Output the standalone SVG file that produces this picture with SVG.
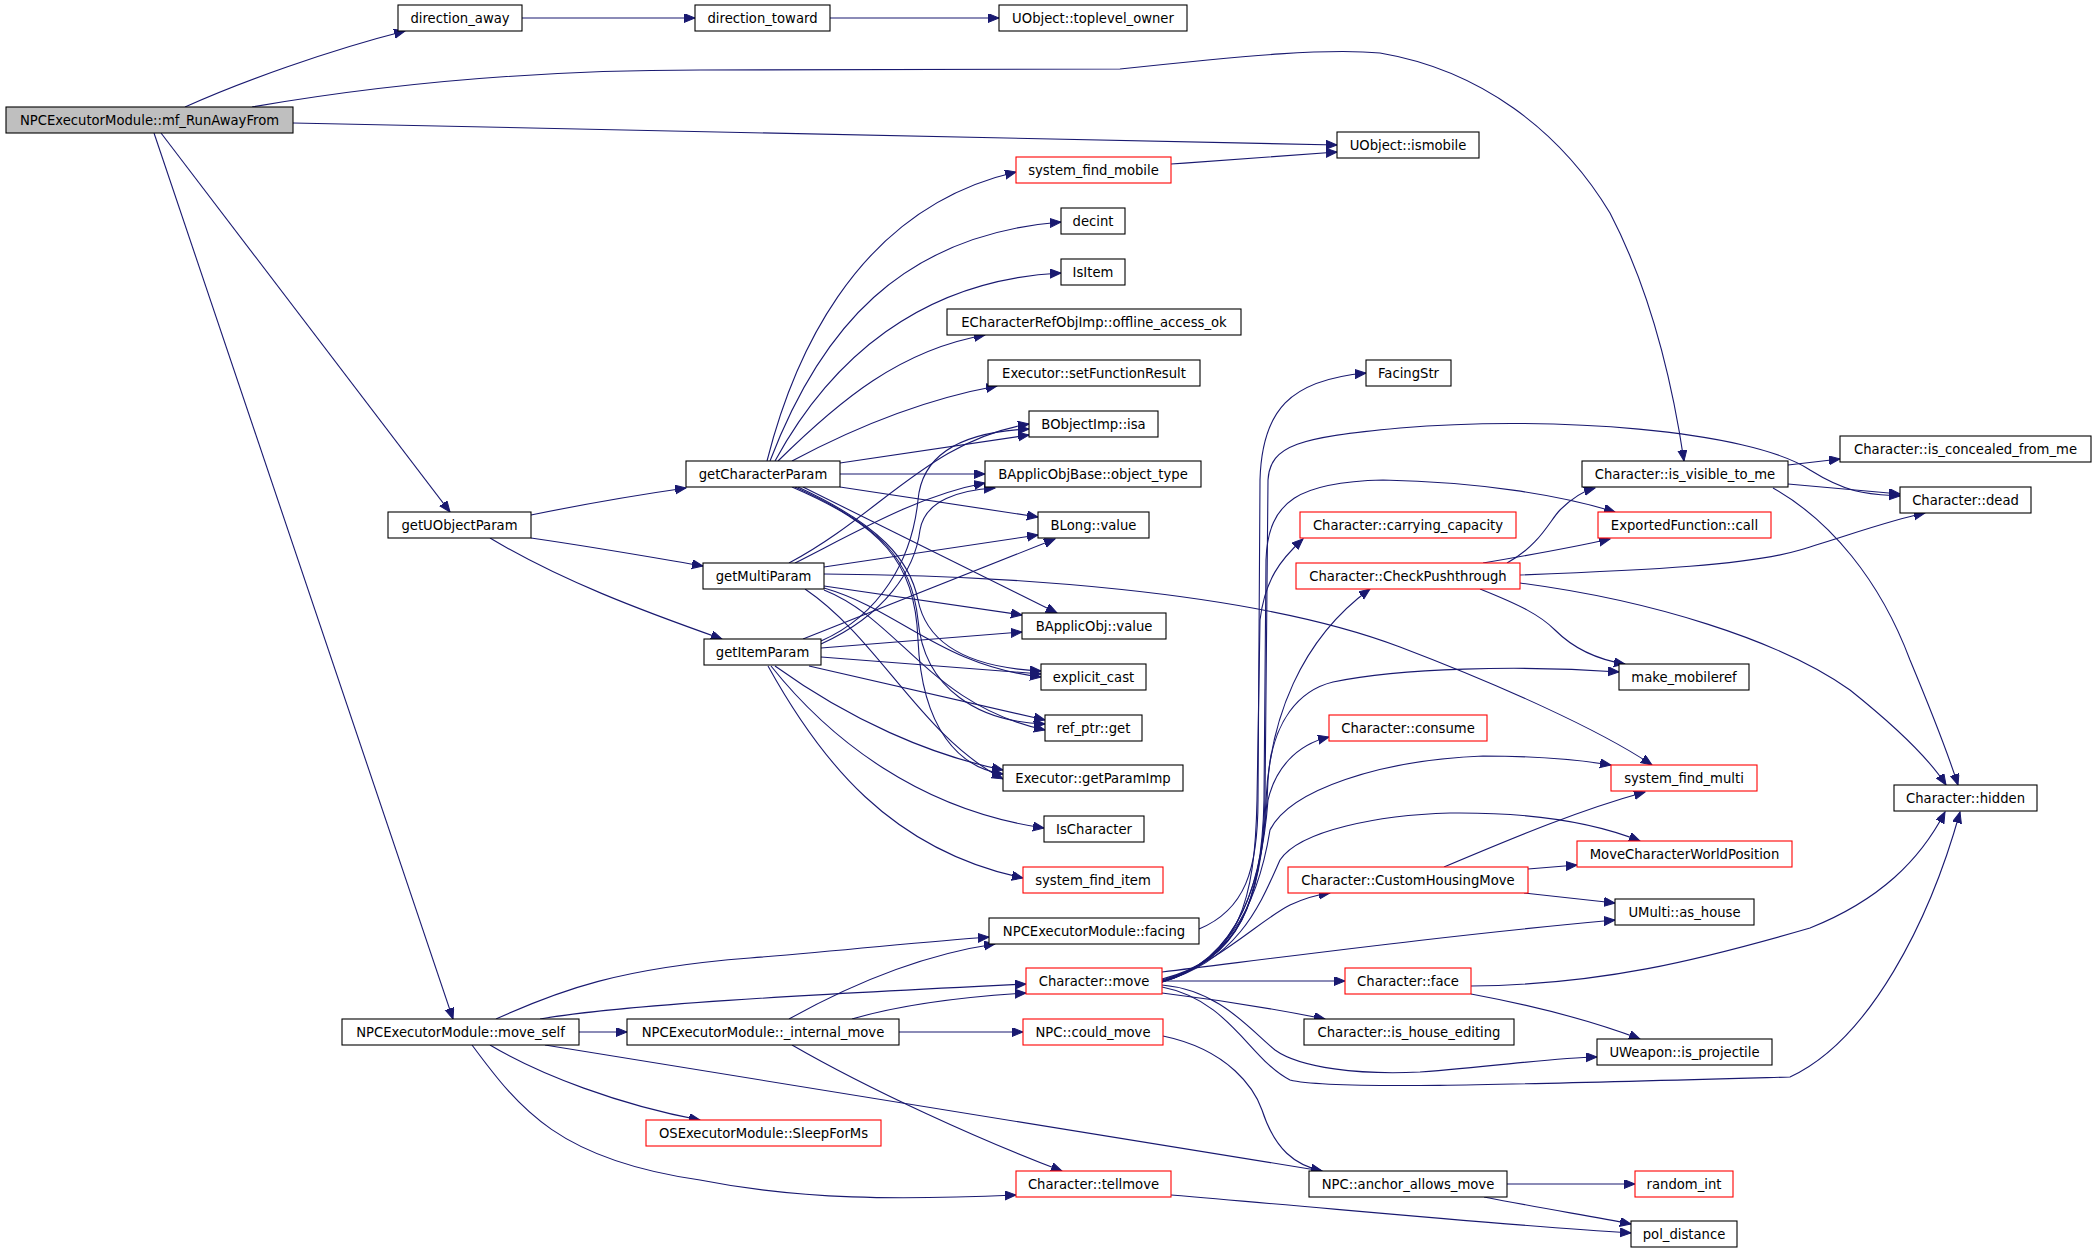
<svg xmlns="http://www.w3.org/2000/svg" width="2096" height="1253" viewBox="0 0 2096 1253">
<style>
.node rect{fill:#ffffff;stroke:#000000;stroke-width:1.1}
.node.red rect{stroke:#ff0000}
.node.root rect{fill:#bfbfbf}
.node text{font-family:"DejaVu Sans",sans-serif;font-size:13.2px;fill:#000000;text-anchor:middle}
#edges path{fill:none;stroke:#191970;stroke-width:1.1;marker-end:url(#ah)}
</style>
<defs>
<marker id="ah" markerWidth="13" markerHeight="10" refX="11" refY="4.5" orient="auto" markerUnits="userSpaceOnUse">
<path d="M0,0 L11,4.5 L0,9 z" fill="#191970" stroke="#191970" stroke-width="1"/>
</marker>
</defs>
<rect width="2096" height="1253" fill="#ffffff"/>
<g id="edges">
<path d="M185,107 C240,82 330,50 405,31"/>
<path d="M522,18 L695,18"/>
<path d="M830,18 L999,18"/>
<path d="M252,107 C350,90 500,70 700,70 L1120,69 C1250,55 1330,48 1380,53 C1480,70 1560,130 1610,213 C1650,290 1672,380 1684,461"/>
<path d="M293,123 C500,128 900,137 1337,145"/>
<path d="M161,133 L450,512"/>
<path d="M154,133 L453,1019"/>
<path d="M531,515 C580,505 630,496 686,488"/>
<path d="M531,538 C600,548 650,557 703,566"/>
<path d="M490,538 C560,580 640,610 722,639"/>
<path d="M1171,164 C1230,160 1290,155 1337,152"/>
<path d="M767,461 C790,370 850,210 1016,172"/>
<path d="M770,461 C820,330 900,235 1061,222"/>
<path d="M775,461 C830,360 920,280 1061,273"/>
<path d="M778,461 C840,400 900,350 985,335"/>
<path d="M792,461 C850,430 920,400 997,386"/>
<path d="M840,463 L1029,435"/>
<path d="M840,474 L985,474"/>
<path d="M840,487 L1038,517"/>
<path d="M803,487 L1057,613"/>
<path d="M798,487 C880,525 910,560 918,600 C928,650 980,668 1041,671"/>
<path d="M795,487 C880,525 912,560 918,620 C924,690 980,722 1045,724"/>
<path d="M792,487 C880,525 915,560 918,640 C922,730 960,768 1003,774"/>
<path d="M789,563 C880,515 930,440 1029,424"/>
<path d="M795,563 C860,530 920,495 985,483"/>
<path d="M824,567 L1038,535"/>
<path d="M824,586 L1022,615"/>
<path d="M824,588 C900,610 940,665 1041,677"/>
<path d="M824,590 C900,620 930,705 1045,730"/>
<path d="M805,589 C880,640 920,735 1003,779"/>
<path d="M824,574 C1000,575 1250,590 1400,647 C1500,685 1600,730 1652,765"/>
<path d="M821,641 C880,615 912,560 918,500 C922,455 960,432 1029,429"/>
<path d="M821,644 C885,615 915,570 920,530 C925,500 960,490 995,488"/>
<path d="M803,639 L1055,539"/>
<path d="M821,648 L1022,632"/>
<path d="M821,657 L1041,674"/>
<path d="M809,666 L1045,720"/>
<path d="M775,666 C850,720 930,755 1003,770"/>
<path d="M771,666 C830,740 920,810 1044,828"/>
<path d="M768,666 C820,760 890,850 1023,878"/>
<path d="M496,1019 C560,990 620,968 750,958 C850,950 920,942 989,937"/>
<path d="M540,1019 C620,1005 800,995 1026,984"/>
<path d="M579,1032 L627,1032"/>
<path d="M490,1045 C540,1075 620,1105 700,1120"/>
<path d="M472,1045 C520,1110 560,1160 700,1180 C800,1200 900,1200 1016,1195"/>
<path d="M545,1045 C700,1070 1000,1120 1322,1171"/>
<path d="M789,1019 C850,985 920,955 995,944"/>
<path d="M852,1019 C900,1005 960,997 1026,993"/>
<path d="M899,1032 L1023,1032"/>
<path d="M792,1045 C870,1090 980,1140 1062,1171"/>
<path d="M1163,1036 C1230,1050 1255,1090 1262,1110 C1275,1150 1295,1165 1322,1171"/>
<path d="M1507,1184 L1635,1184"/>
<path d="M1484,1197 C1540,1208 1590,1216 1631,1224"/>
<path d="M1171,1195 C1350,1210 1500,1225 1631,1233"/>
<path d="M1199,929 C1245,910 1258,870 1258,800 L1260,480 C1262,410 1290,380 1366,373"/>
<path d="M1162,979 C1240,960 1262,900 1265,800 L1268,480 C1270,445 1300,437 1400,428 C1550,415 1750,430 1810,470 C1850,495 1870,494 1900,496"/>
<path d="M1162,980 C1240,960 1262,900 1264,800 L1266,560 C1268,500 1300,482 1383,480 C1480,482 1560,495 1615,512"/>
<path d="M1162,981 C1240,960 1255,900 1257,800 L1260,620 C1265,580 1280,560 1303,539"/>
<path d="M1162,981 C1240,960 1262,900 1266,800 C1270,720 1300,640 1370,589"/>
<path d="M1162,982 C1240,960 1265,880 1268,780 C1272,720 1300,690 1333,682 C1400,668 1520,665 1619,672"/>
<path d="M1162,982 C1240,960 1262,880 1268,800 C1275,770 1295,745 1329,737"/>
<path d="M1162,982 C1240,960 1262,880 1270,830 C1290,790 1380,760 1483,756 C1540,756 1580,760 1611,765"/>
<path d="M1162,982 C1240,960 1262,900 1280,860 C1300,830 1380,815 1450,813 C1540,812 1600,825 1640,841"/>
<path d="M1162,982 C1220,962 1260,920 1290,905 C1305,898 1315,895 1330,893"/>
<path d="M1162,972 C1300,955 1450,935 1615,920"/>
<path d="M1162,981 L1345,981"/>
<path d="M1162,993 C1220,1000 1280,1010 1325,1019"/>
<path d="M1162,985 C1220,990 1250,1030 1275,1050 C1300,1068 1360,1075 1420,1072 C1500,1066 1550,1058 1597,1057"/>
<path d="M1162,987 C1230,1000 1250,1060 1290,1080 C1330,1090 1500,1085 1790,1077 C1870,1040 1930,920 1960,812"/>
<path d="M1471,986 C1600,985 1700,960 1810,928 C1880,900 1920,860 1945,812"/>
<path d="M1471,994 C1530,1005 1590,1020 1640,1039"/>
<path d="M1483,563 C1530,555 1570,548 1610,539"/>
<path d="M1507,563 C1540,545 1550,520 1560,510 C1570,500 1580,492 1595,488"/>
<path d="M1520,575 C1650,570 1750,565 1800,550 C1850,535 1890,520 1925,513"/>
<path d="M1520,583 C1650,600 1780,640 1850,690 C1900,730 1930,760 1946,785"/>
<path d="M1480,589 C1520,605 1540,615 1555,630 C1575,650 1600,660 1625,664"/>
<path d="M1788,465 L1840,459"/>
<path d="M1788,484 L1900,494"/>
<path d="M1773,488 C1830,520 1880,580 1910,660 C1935,720 1950,760 1958,785"/>
<path d="M1444,867 C1520,835 1580,810 1645,792"/>
<path d="M1528,869 L1577,865"/>
<path d="M1524,893 L1615,903"/>
</g>
<g id="n_root" class="node root"><rect x="6" y="107" width="287" height="26"/><text x="149.5" y="124.5">NPCExecutorModule::mf_RunAwayFrom</text></g>
<g id="n_da" class="node"><rect x="398" y="5" width="124" height="26"/><text x="460" y="22.5">direction_away</text></g>
<g id="n_dt" class="node"><rect x="695" y="5" width="135" height="26"/><text x="762.5" y="22.5">direction_toward</text></g>
<g id="n_tlo" class="node"><rect x="999" y="5" width="188" height="26"/><text x="1093" y="22.5">UObject::toplevel_owner</text></g>
<g id="n_ism" class="node"><rect x="1337" y="132" width="142" height="26"/><text x="1408" y="149.5">UObject::ismobile</text></g>
<g id="n_sfm" class="node red"><rect x="1016" y="157" width="155" height="26"/><text x="1093.5" y="174.5">system_find_mobile</text></g>
<g id="n_dec" class="node"><rect x="1061" y="208" width="64" height="26"/><text x="1093" y="225.5">decint</text></g>
<g id="n_isi" class="node"><rect x="1061" y="259" width="64" height="26"/><text x="1093" y="276.5">IsItem</text></g>
<g id="n_ecr" class="node"><rect x="947" y="309" width="294" height="26"/><text x="1094" y="326.5">ECharacterRefObjImp::offline_access_ok</text></g>
<g id="n_sfr" class="node"><rect x="988" y="360" width="212" height="26"/><text x="1094" y="377.5">Executor::setFunctionResult</text></g>
<g id="n_fstr" class="node"><rect x="1366" y="360" width="85" height="26"/><text x="1408.5" y="377.5">FacingStr</text></g>
<g id="n_isa" class="node"><rect x="1029" y="411" width="129" height="26"/><text x="1093.5" y="428.5">BObjectImp::isa</text></g>
<g id="n_conc" class="node"><rect x="1840" y="436" width="251" height="26"/><text x="1965.5" y="453.5">Character::is_concealed_from_me</text></g>
<g id="n_gcp" class="node"><rect x="686" y="461" width="154" height="26"/><text x="763" y="478.5">getCharacterParam</text></g>
<g id="n_obt" class="node"><rect x="985" y="461" width="216" height="26"/><text x="1093" y="478.5">BApplicObjBase::object_type</text></g>
<g id="n_vis" class="node"><rect x="1582" y="461" width="206" height="26"/><text x="1685" y="478.5">Character::is_visible_to_me</text></g>
<g id="n_dead" class="node"><rect x="1900" y="487" width="131" height="26"/><text x="1965.5" y="504.5">Character::dead</text></g>
<g id="n_guo" class="node"><rect x="388" y="512" width="143" height="26"/><text x="459.5" y="529.5">getUObjectParam</text></g>
<g id="n_blv" class="node"><rect x="1038" y="512" width="111" height="26"/><text x="1093.5" y="529.5">BLong::value</text></g>
<g id="n_cap" class="node red"><rect x="1300" y="512" width="216" height="26"/><text x="1408" y="529.5">Character::carrying_capacity</text></g>
<g id="n_efc" class="node red"><rect x="1598" y="512" width="173" height="26"/><text x="1684.5" y="529.5">ExportedFunction::call</text></g>
<g id="n_gmp" class="node"><rect x="703" y="563" width="121" height="26"/><text x="763.5" y="580.5">getMultiParam</text></g>
<g id="n_cpt" class="node red"><rect x="1296" y="563" width="224" height="26"/><text x="1408" y="580.5">Character::CheckPushthrough</text></g>
<g id="n_bav" class="node"><rect x="1022" y="613" width="144" height="26"/><text x="1094" y="630.5">BApplicObj::value</text></g>
<g id="n_gip" class="node"><rect x="704" y="639" width="117" height="26"/><text x="762.5" y="656.5">getItemParam</text></g>
<g id="n_ecast" class="node"><rect x="1041" y="664" width="105" height="26"/><text x="1093.5" y="681.5">explicit_cast</text></g>
<g id="n_mmr" class="node"><rect x="1619" y="664" width="130" height="26"/><text x="1684" y="681.5">make_mobileref</text></g>
<g id="n_rpg" class="node"><rect x="1045" y="715" width="97" height="26"/><text x="1093.5" y="732.5">ref_ptr::get</text></g>
<g id="n_cons" class="node red"><rect x="1329" y="715" width="158" height="26"/><text x="1408" y="732.5">Character::consume</text></g>
<g id="n_gpi" class="node"><rect x="1003" y="765" width="180" height="26"/><text x="1093" y="782.5">Executor::getParamImp</text></g>
<g id="n_sfmu" class="node red"><rect x="1611" y="765" width="146" height="26"/><text x="1684" y="782.5">system_find_multi</text></g>
<g id="n_hid" class="node"><rect x="1894" y="785" width="143" height="26"/><text x="1965.5" y="802.5">Character::hidden</text></g>
<g id="n_isc" class="node"><rect x="1044" y="816" width="100" height="26"/><text x="1094" y="833.5">IsCharacter</text></g>
<g id="n_mcwp" class="node red"><rect x="1577" y="841" width="215" height="26"/><text x="1684.5" y="858.5">MoveCharacterWorldPosition</text></g>
<g id="n_sfi" class="node red"><rect x="1023" y="867" width="140" height="26"/><text x="1093" y="884.5">system_find_item</text></g>
<g id="n_chm" class="node red"><rect x="1288" y="867" width="240" height="26"/><text x="1408" y="884.5">Character::CustomHousingMove</text></g>
<g id="n_ash" class="node"><rect x="1615" y="899" width="139" height="26"/><text x="1684.5" y="916.5">UMulti::as_house</text></g>
<g id="n_fac" class="node"><rect x="989" y="918" width="210" height="26"/><text x="1094" y="935.5">NPCExecutorModule::facing</text></g>
<g id="n_mov" class="node red"><rect x="1026" y="968" width="136" height="26"/><text x="1094" y="985.5">Character::move</text></g>
<g id="n_face" class="node red"><rect x="1345" y="968" width="126" height="26"/><text x="1408" y="985.5">Character::face</text></g>
<g id="n_ms" class="node"><rect x="342" y="1019" width="237" height="26"/><text x="460.5" y="1036.5">NPCExecutorModule::move_self</text></g>
<g id="n_im" class="node"><rect x="627" y="1019" width="272" height="26"/><text x="763" y="1036.5">NPCExecutorModule::_internal_move</text></g>
<g id="n_cm" class="node red"><rect x="1023" y="1019" width="140" height="26"/><text x="1093" y="1036.5">NPC::could_move</text></g>
<g id="n_ihe" class="node"><rect x="1304" y="1019" width="210" height="26"/><text x="1409" y="1036.5">Character::is_house_editing</text></g>
<g id="n_proj" class="node"><rect x="1597" y="1039" width="175" height="26"/><text x="1684.5" y="1056.5">UWeapon::is_projectile</text></g>
<g id="n_sleep" class="node red"><rect x="646" y="1120" width="235" height="26"/><text x="763.5" y="1137.5">OSExecutorModule::SleepForMs</text></g>
<g id="n_tell" class="node red"><rect x="1016" y="1171" width="155" height="26"/><text x="1093.5" y="1188.5">Character::tellmove</text></g>
<g id="n_anc" class="node"><rect x="1309" y="1171" width="198" height="26"/><text x="1408" y="1188.5">NPC::anchor_allows_move</text></g>
<g id="n_rnd" class="node red"><rect x="1635" y="1171" width="98" height="26"/><text x="1684" y="1188.5">random_int</text></g>
<g id="n_pol" class="node"><rect x="1631" y="1221" width="106" height="26"/><text x="1684" y="1238.5">pol_distance</text></g>
</svg>
